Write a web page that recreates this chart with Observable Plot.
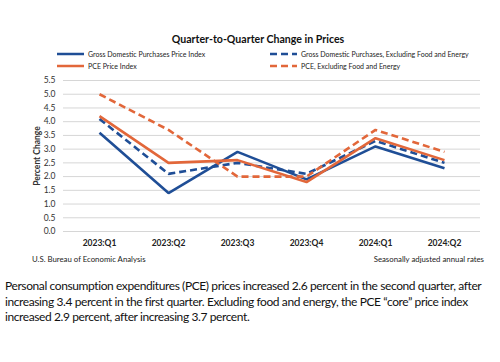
<!DOCTYPE html>
<html>
<head>
<meta charset="utf-8">
<script src="https://cdn.jsdelivr.net/npm/d3@7"></script>
<script src="https://cdn.jsdelivr.net/npm/@observablehq/plot@0.6"></script>
<style>
  html, body { margin: 0; padding: 0; background: #fff; }
  body { width: 500px; height: 362px; position: relative; overflow: hidden; font-family: Lato, "Open Sans", sans-serif; color: #111; }
  #title { position: absolute; top: 33px; left: 0; width: 516px; text-align: center; font-weight: bold; font-size: 10.6px; }
  .leg { position: absolute; font-size: 7px; color: #222; display: flex; align-items: center; white-space: nowrap; }
  .leg svg { margin-right: 4px; }
  #chart { position: absolute; top: 70px; left: 0; }
  .foot { position: absolute; top: 254px; font-size: 7.8px; color: #222; }
  #para { position: absolute; top: 278px; left: 5px; width: 495px; font-size: 12px; letter-spacing: -0.4px; line-height: 15.6px; color: #111; white-space: nowrap; }
</style>
</head>
<body>
<div id="title"></div>
<div id="legend"></div>
<div id="chart"></div>
<div class="foot" id="src" style="left:32px"></div>
<div class="foot" id="note" style="right:16px; text-align:right"></div>
<div id="para"></div>
<script>
const quarters = ["2023:Q1", "2023:Q2", "2023:Q3", "2023:Q4", "2024:Q1", "2024:Q2"];
const gdpPrice = [3.6, 1.4, 2.9, 1.9, 3.1, 2.3];
const gdpCore  = [4.1, 2.1, 2.5, 2.1, 3.3, 2.5];
const pcePrice = [4.2, 2.5, 2.6, 1.8, 3.4, 2.6];
const pceCore  = [5.0, 3.7, 2.0, 2.0, 3.7, 2.9];
const seriesNames = [
  "Gross Domestic Purchases Price Index",
  "Gross Domestic Purchases, Excluding Food and Energy",
  "PCE Price Index",
  "PCE, Excluding Food and Energy"
];
const yTicks = [0, 0.5, 1, 1.5, 2, 2.5, 3, 3.5, 4, 4.5, 5, 5.5];
const titleText = "Quarter-to-Quarter Change in Prices";
const yLabel = "Percent Change";
const sourceText = "U.S. Bureau of Economic Analysis";
const noteText = "Seasonally adjusted annual rates";
const paraLines = [
  "Personal consumption expenditures (PCE) prices increased 2.6 percent in the second quarter, after",
  "increasing 3.4 percent in the first quarter. Excluding food and energy, the PCE \u201ccore\u201d price index",
  "increased 2.9 percent, after increasing 3.7 percent."
];

const BLUE = "#1f4e96";
const ORANGE = "#e2673a";
const styles = [
  {stroke: BLUE, dash: null},
  {stroke: BLUE, dash: "7,4"},
  {stroke: ORANGE, dash: null},
  {stroke: ORANGE, dash: "7,4"}
];
const allValues = [gdpPrice, gdpCore, pcePrice, pceCore];

document.getElementById("title").textContent = titleText;
document.getElementById("src").textContent = sourceText;
document.getElementById("note").textContent = noteText;
const para = document.getElementById("para");
paraLines.forEach(l => { const d = document.createElement("div"); d.textContent = l; para.appendChild(d); });

// legend
const legPos = [[57, 50], [270, 50], [57, 62], [270, 62]];
const legend = document.getElementById("legend");
seriesNames.forEach((name, i) => {
  const d = document.createElement("div");
  d.className = "leg";
  d.style.left = legPos[i][0] + "px";
  d.style.top = legPos[i][1] + "px";
  const s = styles[i];
  d.innerHTML = `<svg width="27" height="6"><line x1="0" x2="27" y1="3" y2="3" stroke="${s.stroke}" stroke-width="2.5" ${s.dash ? `stroke-dasharray="${s.dash}"` : ""}/></svg>`;
  const t = document.createElement("span");
  t.textContent = name;
  d.appendChild(t);
  legend.appendChild(d);
});

const rows = [];
allValues.forEach((vals, si) => vals.forEach((v, qi) => rows.push({series: seriesNames[si], q: quarters[qi], v})));

const marks = [
  Plot.gridY(yTicks, {stroke: "#d6d6d6", strokeOpacity: 1, strokeWidth: 1}),
  Plot.axisY(yTicks, {tickSize: 0, tickPadding: 8, tickFormat: d3.format(".1f"), fontSize: 8.5, fill: "#333",
    label: yLabel, labelAnchor: "center", labelOffset: 30, labelArrow: "none"}),
  Plot.axisX({tickSize: 0, tickPadding: 8, fontSize: 8.5, fontWeight: "bold", fill: "#222", label: null})
];
seriesNames.forEach((name, i) => {
  marks.push(Plot.line(rows.filter(r => r.series === name), {
    x: "q", y: "v", stroke: styles[i].stroke, strokeWidth: 2.6,
    strokeDasharray: styles[i].dash || undefined, strokeLinejoin: "miter", strokeLinecap: "butt"
  }));
});

const chart = Plot.plot({
  width: 500,
  height: 186,
  marginTop: 10,
  marginBottom: 25,
  marginLeft: 63,
  marginRight: 20,
  style: {fontFamily: "Lato, 'Open Sans', sans-serif", background: "transparent"},
  x: {type: "point", domain: quarters, padding: 0.5},
  y: {domain: [0, 5.5]},
  marks
});
chart.querySelectorAll("[aria-label='y-axis label'] text, [aria-label='y-axis label']").forEach(el => {
  el.setAttribute("font-weight", "bold");
  el.setAttribute("font-size", "8.5");
});
document.getElementById("chart").appendChild(chart);
</script>
</body>
</html>
